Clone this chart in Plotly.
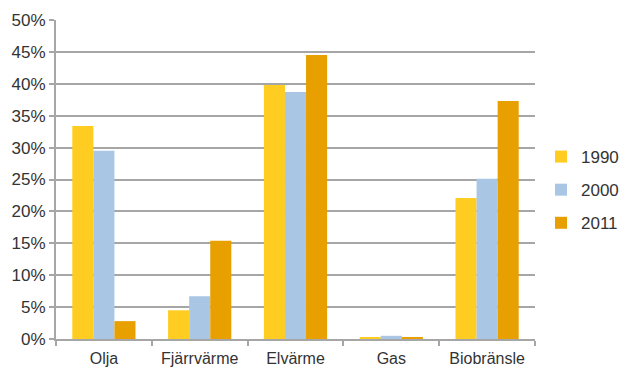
import plotly.graph_objects as go

categories = ["Olja", "Fjärrvärme", "Elvärme", "Gas", "Biobränsle"]
years = ["1990", "2000", "2011"]
share_1990 = [33.4, 4.5, 39.8, 0.2, 22.1]
share_2000 = [29.5, 6.7, 38.7, 0.5, 25.1]
share_2011 = [2.8, 15.4, 44.5, 0.2, 37.3]
colors = ["#FFCC22", "#A9C6E4", "#E89F00"]
y_ticks = [0, 5, 10, 15, 20, 25, 30, 35, 40, 45, 50]

fig = go.Figure()
for name, vals, col in zip(years, [share_1990, share_2000, share_2011], colors):
    fig.add_trace(go.Bar(
        x=categories, y=vals, name=name, legendgroup=name,
        marker=dict(color=col, line=dict(width=0)),
    ))

font_family = "Liberation Sans, Arial, sans-serif"
fig.update_layout(
    width=622, height=369,
    margin=dict(l=56, r=87, t=20, b=30, autoexpand=False),
    paper_bgcolor="white", plot_bgcolor="white",
    barmode="group", bargap=0.34, bargroupgap=0,
    font=dict(family=font_family, size=16, color="#333333"),
    showlegend=True,
    legend=dict(x=1.0125, y=0.467, xanchor="left", yanchor="middle",
                font=dict(size=17), itemwidth=30, tracegroupgap=8),
    xaxis=dict(
        showline=True, linecolor="#A6A6A6", linewidth=2,
        ticks="outside", ticklen=5, tickwidth=2, tickcolor="#A6A6A6",
        tickson="boundaries", showgrid=False, ticklabelstandoff=4,
    ),
    yaxis=dict(
        range=[0, 50], tickvals=y_ticks,
        ticktext=[f"{v}%" for v in y_ticks],
        tickfont=dict(size=17),
        showline=True, linecolor="#A6A6A6", linewidth=2,
        ticks="outside", ticklen=5, tickwidth=2, tickcolor="#A6A6A6",
        showgrid=True, gridcolor="#A6A6A6", gridwidth=2,
        zeroline=False,
    ),
)

fig.write_html("out.html")
